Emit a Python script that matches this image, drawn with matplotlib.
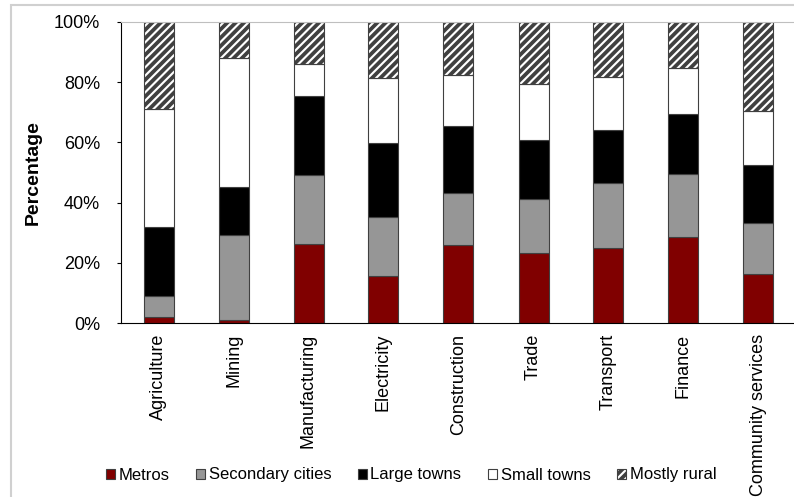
import numpy as np
import matplotlib
matplotlib.use('Agg')
from matplotlib import pyplot as plt
from matplotlib.patches import Rectangle

plt.rcParams['font.family'] = ['Liberation Sans', 'DejaVu Sans']
plt.rcParams['hatch.linewidth'] = 2.7

sectors = ['Agriculture', 'Mining', 'Manufacturing', 'Electricity', 'Construction',
           'Trade', 'Transport', 'Finance', 'Community services']
# segment sizes (%)
metros = [1.9, 1.0, 26.1, 15.7, 25.9, 23.2, 24.8, 28.5, 16.2]
secondary = [7.0, 28.1, 23.2, 19.6, 17.3, 18.0, 21.8, 20.9, 17.1]
large_towns = [23.0, 16.1, 26.2, 24.5, 22.2, 19.6, 17.5, 20.0, 19.1]
small_towns = [39.2, 42.7, 10.4, 21.5, 17.0, 18.6, 17.5, 15.4, 18.0]
mostly_rural = [28.9, 12.1, 14.1, 18.7, 17.6, 20.6, 18.4, 15.2, 29.6]

series = [
    ('Metros', metros, '#800000', None),
    ('Secondary cities', secondary, '#969696', None),
    ('Large towns', large_towns, 'black', None),
    ('Small towns', small_towns, 'white', None),
    ('Mostly rural', mostly_rural, 'white', '////'),
]

fig = plt.figure(figsize=(7.94, 4.97), dpi=100)
fig.patches.append(Rectangle((11 / 794, -0.1), 1.2, 1 - 4.5 / 497 + 0.1,
                             transform=fig.transFigure, fill=False,
                             edgecolor='#d0d0d0', linewidth=1.5))
ax = fig.add_axes([121 / 794, 1 - 323 / 497, 675 / 794, 301 / 497])

x = np.arange(len(sectors))
bottom = np.zeros(len(sectors))
for name, vals, color, hatch in series:
    vals = np.array(vals)
    ax.bar(x, vals, 0.4, bottom=bottom, color=color, edgecolor='#404040',
           linewidth=0.8, hatch=hatch, label=name)
    bottom += vals

ax.set_xlim(-0.5, len(sectors) - 0.5)
ax.set_ylim(0, 100)
ax.set_yticks(range(0, 101, 20))
ax.set_yticklabels([f'{v}%' for v in range(0, 101, 20)], fontsize=13)
ax.set_xticks(x)
ax.set_xticklabels(sectors, rotation=90, fontsize=13)
ax.tick_params(axis='x', length=0, pad=8)
ax.tick_params(axis='y', length=3, direction='out', pad=12)
ax.set_ylabel('Percentage', fontsize=14, fontweight='bold', labelpad=9)

ax.spines['top'].set_color('#bfbfbf')
ax.spines['right'].set_color('#bfbfbf')
ax.spines['left'].set_color('black')
ax.spines['bottom'].set_color('black')

fig.legend(loc='center left', bbox_to_anchor=(106 / 794, 1 - 475 / 497), ncol=5,
           frameon=False, fontsize=12, handlelength=0.55, handleheight=0.55,
           handletextpad=0.2, columnspacing=1.6, borderpad=0, borderaxespad=0)

fig.savefig('out.png', dpi=100)
